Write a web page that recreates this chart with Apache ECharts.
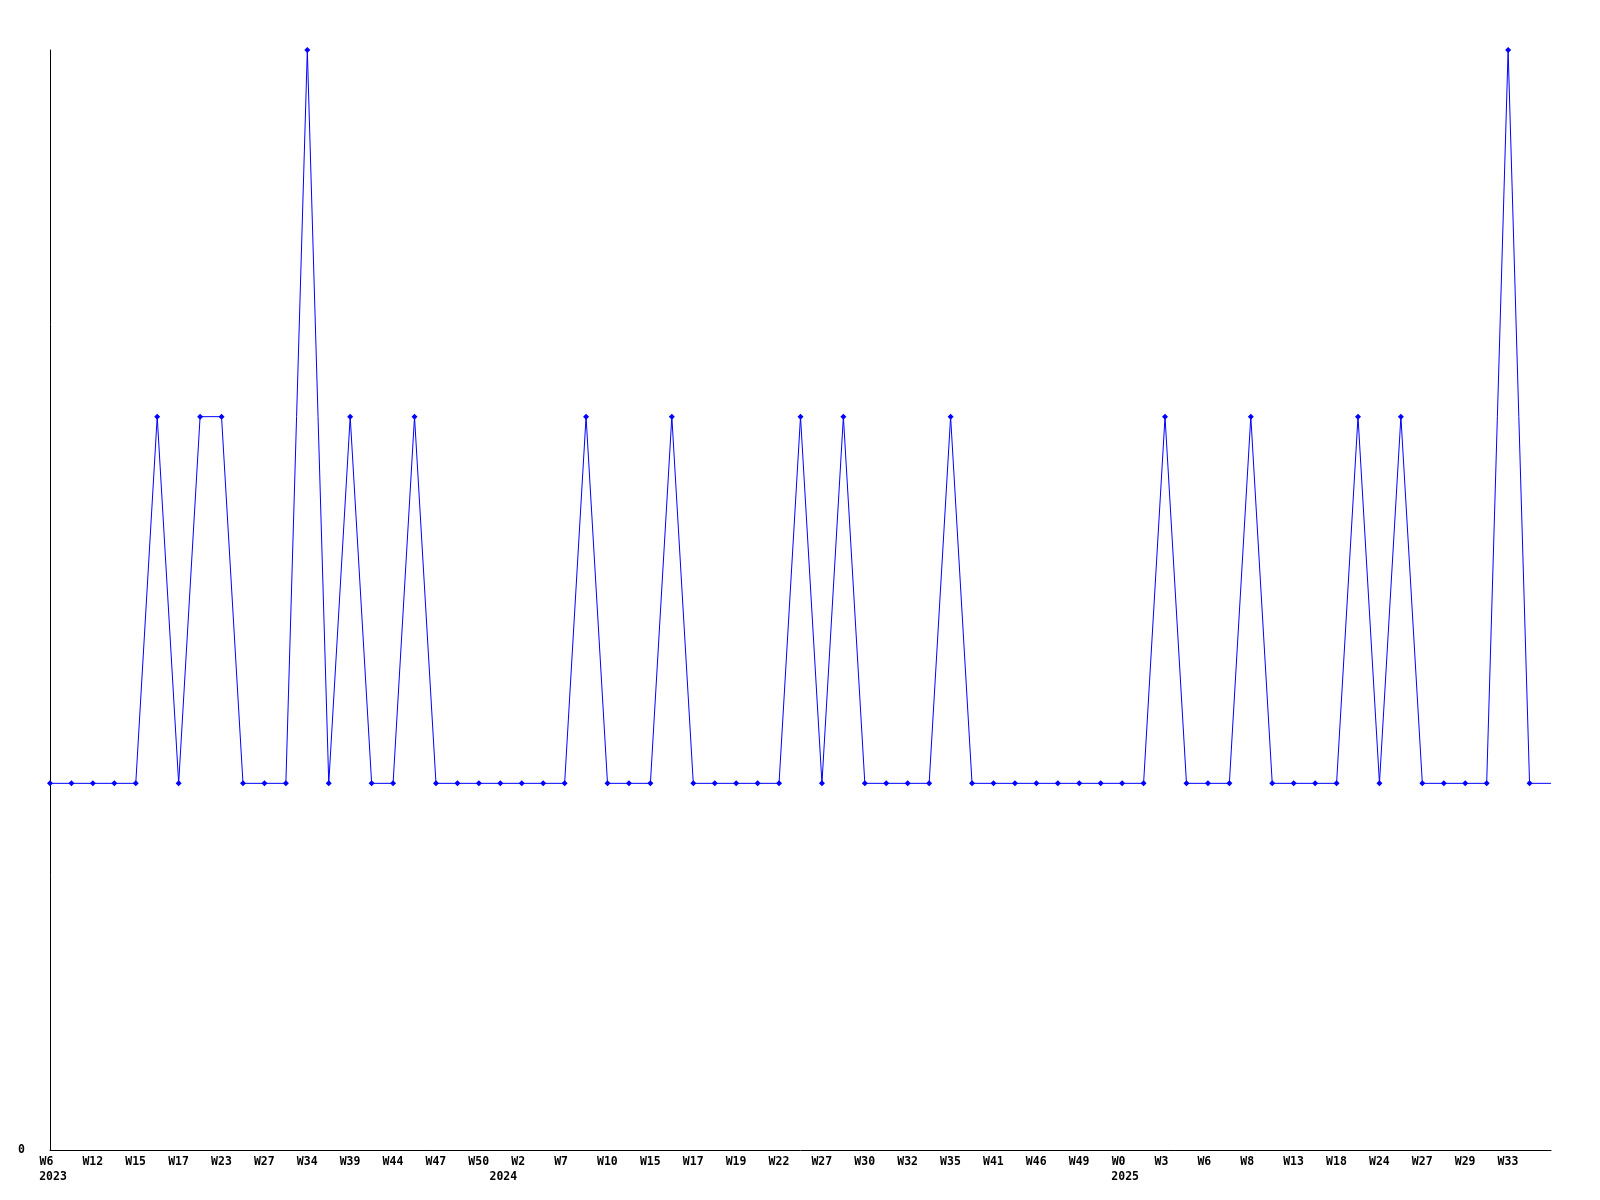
<!DOCTYPE html>
<html>
<head>
<meta charset="utf-8">
<script src="https://cdn.jsdelivr.net/npm/echarts@6/dist/echarts.min.js"></script>
<style>html,body{margin:0;padding:0;background:#fff}#c{width:1600px;height:1200px}</style>
</head>
<body>
<div id="c"></div>
<script>
// Week labels (only every other one is printed in the reference; unseen ones left blank)
const weekLabels = [
  'W6','', 'W12','', 'W15','', 'W17','', 'W23','', 'W27','', 'W34','', 'W39','', 'W44','',
  'W47','', 'W50','', 'W2','', 'W7','', 'W10','', 'W15','', 'W17','', 'W19','', 'W22','',
  'W27','', 'W30','', 'W32','', 'W35','', 'W41','', 'W46','', 'W49','', 'W0','', 'W3','',
  'W6','', 'W8','', 'W13','', 'W18','', 'W24','', 'W27','', 'W29','', 'W33','', ''
];
// Year labels (second row)
const yearLabels = weekLabels.map(() => '');
yearLabels[0] = '2023';
yearLabels[21] = '2024';
yearLabels[50] = '2025';
// Series values
const values = [
  1,1,1,1,1,2,1,2,2,1,
  1,1,3,1,2,1,1,2,1,1,
  1,1,1,1,1,2,1,1,1,2,
  1,1,1,1,1,2,1,2,1,1,
  1,1,2,1,1,1,1,1,1,1,
  1,1,2,1,1,1,2,1,1,1,
  1,2,1,2,1,1,1,1,3,1,
  1
];
const yTickLabels = ['0'];

const font = 'DejaVu Sans Mono';
const chart = echarts.init(document.getElementById('c'));
chart.setOption({
  animation: false,
  backgroundColor: '#ffffff',
  grid: { left: 50, right: 49, top: 50, bottom: 50 },
  xAxis: [{
    type: 'category',
    data: weekLabels,
    boundaryGap: false,
    axisLine: { lineStyle: { color: '#000', width: 1 } },
    axisTick: { show: false },
    splitLine: { show: false },
    axisLabel: {
      interval: 0,
      margin: 6,
      color: '#000',
      fontFamily: font,
      fontWeight: 'bold',
      fontSize: 11.5,
      formatter: v => v ? '{a|' + v + '}' : '',
      rich: { a: { width: 21, align: 'left', fontFamily: font, fontWeight: 'bold', fontSize: 11.5, color: '#000' } }
    }
  }, {
    type: 'category',
    data: yearLabels,
    position: 'bottom',
    offset: 15,
    boundaryGap: false,
    axisLine: { show: false },
    axisTick: { show: false },
    splitLine: { show: false },
    axisLabel: {
      interval: 0,
      margin: 6,
      color: '#000',
      fontFamily: font,
      fontWeight: 'bold',
      fontSize: 11.5,
      formatter: v => v ? '{y|' + v + '}' : '',
      rich: { y: { padding: [0, 0, 0, 6], fontFamily: font, fontWeight: 'bold', fontSize: 11.5, color: '#000' } }
    }
  }],
  yAxis: {
    type: 'value',
    min: 0,
    max: 3,
    interval: 1,
    axisLine: { show: true, lineStyle: { color: '#000', width: 1 } },
    axisTick: { show: false },
    splitLine: { show: false },
    axisLabel: {
      margin: 25,
      color: '#000',
      fontFamily: font,
      fontWeight: 'bold',
      fontSize: 11.5,
      formatter: v => yTickLabels.includes(String(v)) ? String(v) : ''
    }
  },
  series: [{
    type: 'line',
    xAxisIndex: 0,
    data: values.map((v, i) => i === values.length - 1 ? { value: v, symbol: 'none' } : v),
    symbol: 'diamond',
    symbolSize: 6,
    showSymbol: true,
    lineStyle: { color: '#0000ff', width: 1 },
    itemStyle: { color: '#0000ff' }
  }]
});
</script>
</body>
</html>
